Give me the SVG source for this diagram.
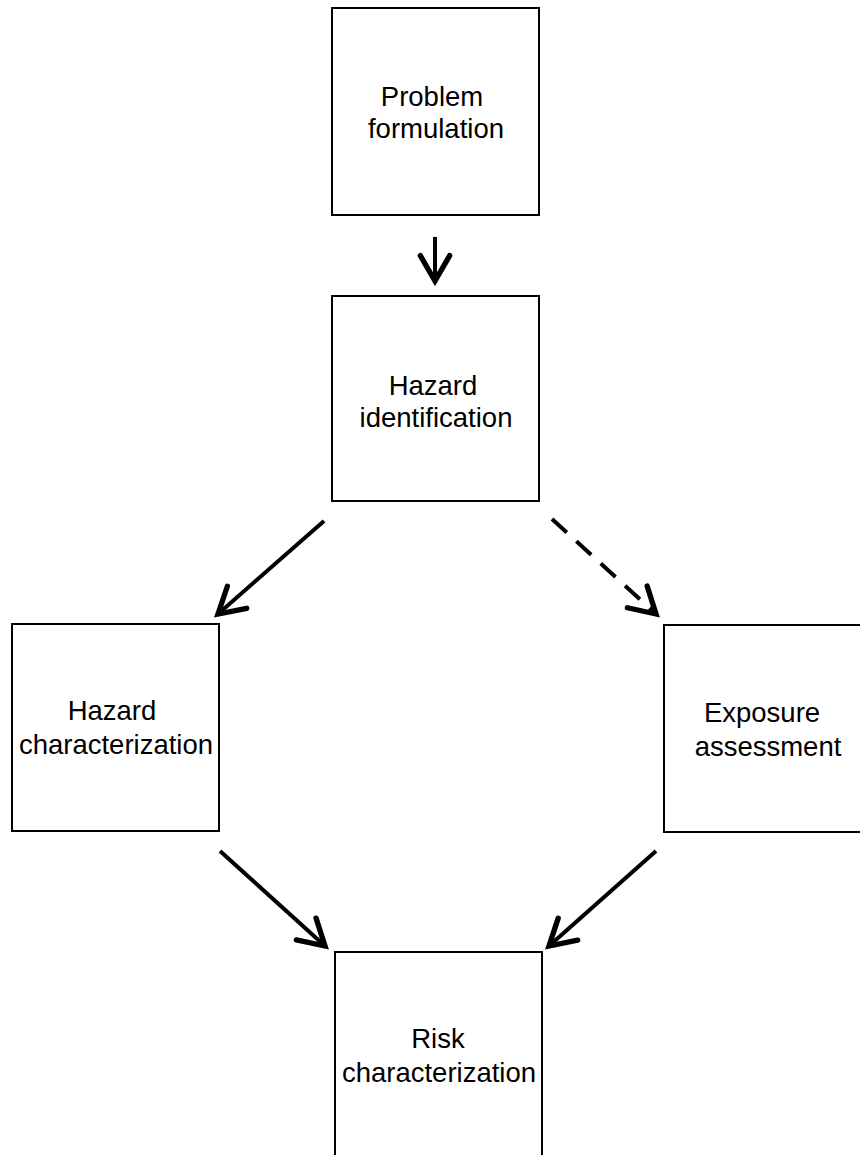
<svg xmlns="http://www.w3.org/2000/svg" width="860" height="1155" viewBox="0 0 860 1155">
<style>
.box{fill:#fff;stroke:#000;stroke-width:2}
.t{font-family:"Liberation Sans",Arial,sans-serif;font-size:27.5px;fill:#000;text-anchor:middle}
.c{fill:none;stroke:#000;stroke-width:4;marker-end:url(#ah)}
.d{stroke-dasharray:20 13}
</style>
<defs>
<marker id="ah" markerUnits="userSpaceOnUse" markerWidth="40" markerHeight="40" viewBox="-25 -15 30 30" refX="0" refY="0" orient="auto">
<path d="M-19,-11 L0,0 L-19,11" fill="none" stroke="#000" stroke-width="4" stroke-linecap="round" stroke-linejoin="miter"/>
</marker>
</defs>
<rect width="860" height="1155" fill="#fff"/>
<g id="problem">
<rect class="box" x="332" y="8" width="207" height="207"/>
<text class="t" x="432" y="106">Problem</text>
<text class="t" x="436" y="138">formulation</text>
</g>
<g id="hazard-id">
<rect class="box" x="332" y="296" width="207" height="205"/>
<text class="t" x="433" y="395">Hazard</text>
<text class="t" x="436" y="427">identification</text>
</g>
<g id="hazard-char">
<rect class="box" x="12" y="624" width="207" height="207"/>
<text class="t" x="112" y="720">Hazard</text>
<text class="t" x="116" y="754">characterization</text>
</g>
<g id="exposure">
<rect class="box" x="664" y="625" width="210" height="207"/>
<text class="t" x="762" y="722">Exposure</text>
<text class="t" x="768" y="756">assessment</text>
</g>
<g id="risk">
<rect class="box" x="335" y="952" width="207" height="220"/>
<text class="t" x="438" y="1048">Risk</text>
<text class="t" x="439" y="1082">characterization</text>
</g>
<g id="connectors">
<line class="c" x1="435" y1="237" x2="435" y2="281"/>
<line class="c" x1="324" y1="521" x2="218" y2="614"/>
<line class="c d" x1="552" y1="519" x2="656" y2="614"/>
<line class="c" x1="220" y1="851" x2="325" y2="946"/>
<line class="c" x1="656" y1="851" x2="549" y2="946"/>
</g>
</svg>
